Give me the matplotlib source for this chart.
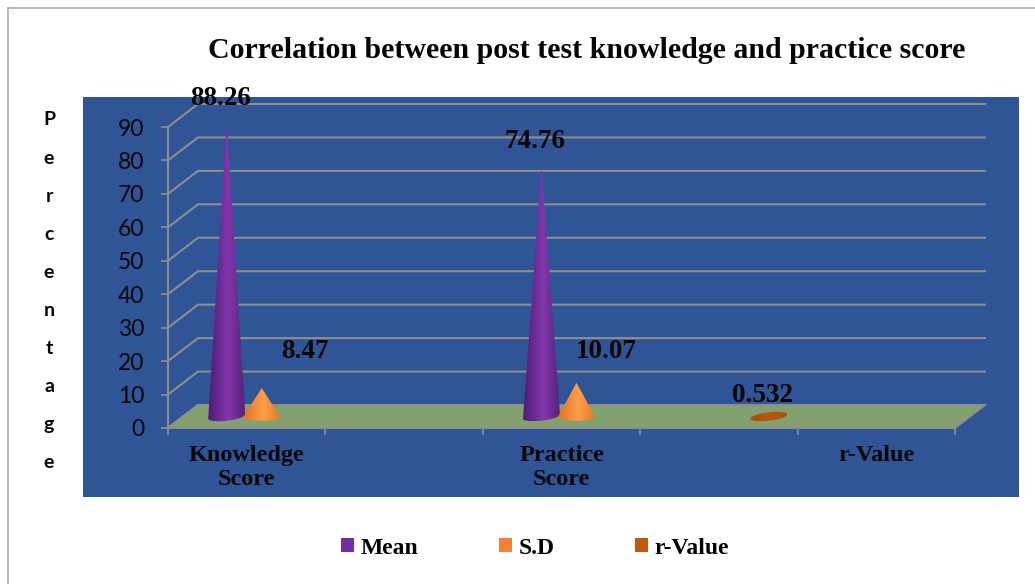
import numpy as np
import matplotlib
matplotlib.use("Agg")
import matplotlib.pyplot as plt
from matplotlib.patches import Polygon, Patch, Rectangle
from matplotlib.lines import Line2D

# ---- data ----
title = "Correlation between post test knowledge and practice score"
y_letters = list("Percentage")
y_ticks = [0, 10, 20, 30, 40, 50, 60, 70, 80, 90]
category_labels = ["Knowledge\nScore", "Practice\nScore", "r-Value"]
category_slots = [0, 2, 4]
mean_values = [88.26, 74.76]
mean_slots = [0, 2]
sd_values = [8.47, 10.07]
sd_slots = [0, 2]
r_values = [0.532]
r_slots = [3]
n_slots = 5
series_names = ["Mean", "S.D", "r-Value"]

# ---- style ----
W, H = 1035, 584
SERIF = "Liberation Serif"
BLUE = "#2F5597"
FLOOR = "#83A16E"
GRID = "#8E8E8E"
LEFT, RIGHT, Y0, Y90 = 168, 955, 428, 127
PX_X = (RIGHT - LEFT) / n_slots
PX_Y = (Y0 - Y90) / 90
DX, DY = 30 / PX_X, 23 / PX_Y
BASE_W, BASE_H = 18.5 / PX_X, 4.2 / PX_Y
SHIFT = 35 / PX_X

fig = plt.figure(figsize=(W / 100, H / 100), dpi=100, facecolor="white")
panel = Rectangle((83 / W, 1 - 497 / H), (1019 - 83) / W, 400 / H,
                  transform=fig.transFigure, facecolor=BLUE, edgecolor="none", zorder=0)
fig.add_artist(panel)
fig.add_artist(Line2D([8 / W, 8 / W], [0, 1 - 7.5 / H], color="#A6A6A6", lw=1.1, zorder=0))
fig.add_artist(Line2D([8 / W, 1], [1 - 7.5 / H] * 2, color="#A6A6A6", lw=1.1, zorder=0))

ax = fig.add_axes([LEFT / W, 1 - Y0 / H, (RIGHT - LEFT) / W, (Y0 - Y90) / H], zorder=2)
ax.patch.set_visible(False)

# floor and walls
ax.add_patch(Polygon([(0, 0), (n_slots, 0), (n_slots + DX, DY), (DX, DY)], closed=True,
                     facecolor=FLOOR, edgecolor=GRID, lw=1.4, clip_on=False, zorder=1))
for v in y_ticks:
    ax.plot([0, DX, n_slots + DX], [v, v + DY, v + DY], color=GRID, lw=1.5,
            clip_on=False, zorder=1.5, solid_joinstyle="miter")


def cone(slot, shift, value, edge, centre, tilt=0.0):
    cx = slot + 0.5 + DX / 2 + shift
    cy = DY / 2
    t = np.linspace(np.pi, 2 * np.pi, 40)
    if value < 2:
        t = np.linspace(0, 2 * np.pi, 80)
    bx = cx + BASE_W * np.cos(t)
    by = cy + BASE_H * np.sin(t) + tilt * np.cos(t) * BASE_H
    if value < 2:
        pts = np.column_stack([bx, by])
    else:
        pts = np.vstack([[cx, cy + value], np.column_stack([bx, by])])
    clip = Polygon(pts, closed=True, facecolor="none", edgecolor="none",
                   transform=ax.transData, clip_on=False)
    ax.add_patch(clip)
    grad = np.linspace(0, 1, 64)
    weight = 1 - np.abs(grad - 0.55) / 0.55
    e, c = matplotlib.colors.to_rgb(edge), matplotlib.colors.to_rgb(centre)
    img = np.outer(1 - weight, e).reshape(1, 64, 3) + np.outer(weight, c).reshape(1, 64, 3)
    top = cy + max(value, BASE_H) + 1
    im = ax.imshow(img, extent=[cx - BASE_W, cx + BASE_W, cy - BASE_H * 2, top],
                   aspect="auto", interpolation="bilinear", zorder=3, clip_on=True)
    im.set_clip_path(clip)
    return cx, cy + value


LABEL_STYLE = dict(textcoords="offset points", ha="center", va="center", family=SERIF,
                   weight="bold", fontsize=19.5, color="#050505", zorder=5,
                   annotation_clip=False)


def put_label(value, text, apex, off):
    ax.annotate(text, xy=apex, xytext=(off[0] * 0.72, off[1] * 0.72), **LABEL_STYLE)


mean_offsets = [(-6, 23), (-6, 25)]
sd_offsets = [(43, 37), (30, 31)]
r_offsets = [(-6, 19)]
for s, v, off in zip(mean_slots, mean_values, mean_offsets):
    put_label(v, f"{v:.2f}", cone(s, -SHIFT, v, "#4A1E72", "#8436AC", tilt=0.5), off)
for s, v, off in zip(sd_slots, sd_values, sd_offsets):
    put_label(v, f"{v:.2f}", cone(s, 0, v, "#E36F1E", "#FFA04C"), off)
for s, v, off in zip(r_slots, r_values, r_offsets):
    put_label(v, f"{v:.3f}", cone(s, SHIFT, v, "#A84D0A", "#B9580C", tilt=0.5), off)

ax.set_xlim(0, n_slots)
ax.set_ylim(0, 90)
for name in ("top", "right"):
    ax.spines[name].set_visible(False)
for name in ("left", "bottom"):
    ax.spines[name].set_color(GRID)
    ax.spines[name].set_linewidth(1.5)
    ax.spines[name].set_zorder(1.6)

ax.set_yticks(y_ticks)
ax.tick_params(axis="y", length=5, width=1.2, color=GRID, pad=12, labelsize=16.5, labelcolor="#050505")
for lb in ax.get_yticklabels():
    lb.set_family("Lato")
ax.set_xticks(np.arange(n_slots + 1))
ax.tick_params(axis="x", which="major", length=5, width=1.2, color=GRID, labelbottom=False)
ax.set_xticks([s + 0.5 for s in category_slots], minor=True)
ax.set_xticklabels(category_labels, minor=True, family=SERIF, weight="bold", fontsize=17.5,
                   color="#050505", linespacing=1.22, va="top")
ax.tick_params(axis="x", which="minor", length=0, pad=12)
for lb in ax.get_xticklabels(minor=True):
    lb.set_clip_on(True)
    lb.set_clip_box(matplotlib.transforms.TransformedBbox(
        matplotlib.transforms.Bbox([[83 / W, 1 - 497 / H], [1019 / W, 1 - 97 / H]]), fig.transFigure))

fig.text(587 / W, 1 - 50 / H, title, ha="center", va="center", family=SERIF, weight="bold",
         fontsize=21.5, color="#050505")

for i, ch in enumerate(y_letters):
    fig.text(49 / W, 1 - (120 + i * 38.1) / H, ch, ha="center", va="center", family="Lato",
             weight="bold", fontsize=14, color="#050505")

handles = [Patch(facecolor=c, edgecolor="none") for c in ("#7030A0", "#F58233", "#C0580F")]
fig.legend(handles, series_names, loc="center", bbox_to_anchor=(535 / W, 1 - 548 / H), ncol=3,
           frameon=False, prop=dict(family=SERIF, weight="bold", size=17),
           handlelength=0.56, handleheight=0.56, handletextpad=0.28, columnspacing=3.4,
           borderpad=0, borderaxespad=0)

fig.savefig("out.png", dpi=100)
